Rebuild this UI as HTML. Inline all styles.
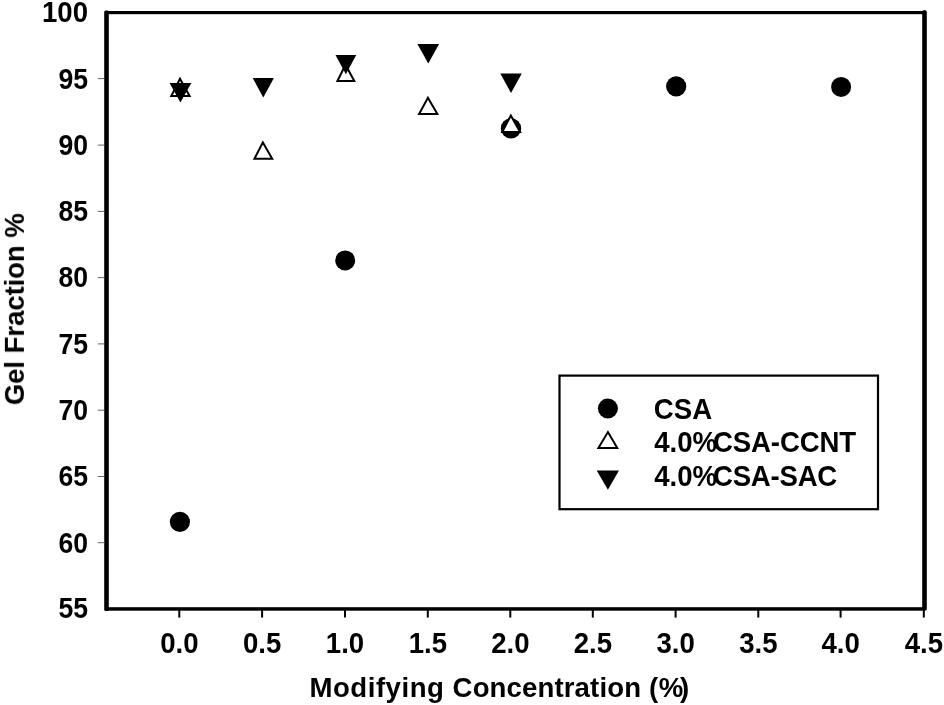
<!DOCTYPE html>
<html lang="en">
<head>
<meta charset="utf-8">
<title>Gel Fraction vs Modifying Concentration</title>
<style>
html,body{margin:0;padding:0;background:#fff;}
body{width:944px;height:705px;overflow:hidden;}
svg{display:block;}
text{font-family:"Liberation Sans",Arial,Helvetica,sans-serif;font-weight:bold;font-size:27.6px;fill:#000;}
</style>
</head>
<body>
<svg width="944" height="705" viewBox="0 0 944 705">
<defs><filter id="soft" x="0" y="0" width="944" height="705" filterUnits="userSpaceOnUse"><feGaussianBlur stdDeviation="0.45"/></filter></defs>
<rect x="0" y="0" width="944" height="705" fill="#fff"/>
<g id="chart" filter="url(#soft)">

<!-- frame -->
<g id="frame" fill="#000">
  <rect x="104.2" y="10.4" width="4.6" height="600.6" rx="1.5"/>
  <rect x="922.2" y="10.2" width="4.6" height="600.2" rx="1.5"/>
  <rect x="106" y="11" width="819" height="3.2"/>
  <rect x="106" y="607.2" width="819" height="3.5"/>
</g>

<!-- y ticks -->
<g id="yticks" stroke="#555" stroke-width="0.9">
  <line x1="97.8" x2="104.5" y1="78.6" y2="78.6"/>
  <line x1="97.8" x2="104.5" y1="145.1" y2="145.1"/>
  <line x1="97.8" x2="104.5" y1="211.4" y2="211.4"/>
  <line x1="97.8" x2="104.5" y1="277.6" y2="277.6"/>
  <line x1="97.8" x2="104.5" y1="343.9" y2="343.9"/>
  <line x1="97.8" x2="104.5" y1="410.2" y2="410.2"/>
  <line x1="97.8" x2="104.5" y1="476.5" y2="476.5"/>
  <line x1="97.8" x2="104.5" y1="542.7" y2="542.7"/>
</g>

<!-- x ticks -->
<g id="xticks" stroke="#000" stroke-width="2">
  <line x1="179.3" x2="179.3" y1="610" y2="617.6"/>
  <line x1="262.1" x2="262.1" y1="610" y2="617.6"/>
  <line x1="345.0" x2="345.0" y1="610" y2="617.6"/>
  <line x1="427.8" x2="427.8" y1="610" y2="617.6"/>
  <line x1="510.3" x2="510.3" y1="610" y2="617.6"/>
  <line x1="592.8" x2="592.8" y1="610" y2="617.6"/>
  <line x1="675.6" x2="675.6" y1="610" y2="617.6"/>
  <line x1="758.3" x2="758.3" y1="610" y2="617.6"/>
  <line x1="840.6" x2="840.6" y1="610" y2="617.6"/>
  <line x1="923.8" x2="923.8" y1="610" y2="617.6"/>
</g>

<!-- y tick labels -->
<g id="ylabels" text-anchor="end">
  <text transform="translate(88 21.6) scale(1 1.045)">100</text>
  <text transform="translate(88 88.6) scale(0.965 1.045)">95</text>
  <text transform="translate(88 154.9) scale(0.965 1.045)">90</text>
  <text transform="translate(88 221.2) scale(0.965 1.045)">85</text>
  <text transform="translate(88 287.4) scale(0.965 1.045)">80</text>
  <text transform="translate(88 353.7) scale(0.965 1.045)">75</text>
  <text transform="translate(88 420.0) scale(0.965 1.045)">70</text>
  <text transform="translate(88 486.3) scale(0.965 1.045)">65</text>
  <text transform="translate(88 552.5) scale(0.965 1.045)">60</text>
  <text transform="translate(88 618.2) scale(0.965 1.045)">55</text>
</g>

<!-- x tick labels -->
<g id="xlabels" text-anchor="middle">
  <text transform="translate(179.3 652.9) scale(1 1.045)">0.0</text>
  <text transform="translate(262.1 652.9) scale(1 1.045)">0.5</text>
  <text transform="translate(345.0 652.9) scale(1 1.045)">1.0</text>
  <text transform="translate(427.8 652.9) scale(1 1.045)">1.5</text>
  <text transform="translate(510.3 652.9) scale(1 1.045)">2.0</text>
  <text transform="translate(592.8 652.9) scale(1 1.045)">2.5</text>
  <text transform="translate(675.6 652.9) scale(1 1.045)">3.0</text>
  <text transform="translate(758.3 652.9) scale(1 1.045)">3.5</text>
  <text transform="translate(840.6 652.9) scale(1 1.045)">4.0</text>
  <text transform="translate(923.8 652.9) scale(1 1.045)">4.5</text>
</g>

<!-- axis titles -->
<text id="xtitle" transform="translate(0 696.9) scale(1 1.02)"><tspan x="309.5" style="letter-spacing:0.52px">Modifying</tspan><tspan x="452.6" style="letter-spacing:0.12px">Concentration</tspan><tspan x="649.1 658.7 680.0">(%)</tspan></text>
<text id="ytitle" transform="translate(23.4 405.2) rotate(-90) scale(1 1.02)" textLength="192" lengthAdjust="spacing">Gel Fraction %</text>

<!-- series - CSA filled circles -->
<g id="csa" fill="#000">
  <circle cx="179.9" cy="521.8" r="10.1"/>
  <circle cx="345.2" cy="260.4" r="10"/>
  <circle cx="511.0" cy="128.4" r="10.2"/>
  <circle cx="676.2" cy="86.4" r="10.1"/>
  <circle cx="841.1" cy="86.9" r="10"/>
</g>

<!-- series - 4.0%CSA-CCNT open up triangles -->
<g id="ccnt" fill="#fff" stroke="#000" stroke-width="2" stroke-linejoin="miter">
  <path d="M180.0 78.7 L189.6 96.0 L171.3 96.0 Z"/>
  <path d="M262.9 142.4 L272.2 158.8 L254.4 158.8 Z"/>
  <path d="M345.5 64.7 L354.3 81.1 L337.4 81.1 Z"/>
  <path d="M427.9 97.7 L437.4 114.1 L419.1 114.1 Z"/>
  <path d="M510.8 115.6 L520.1 132.0 L502.2 132.0 Z"/>
</g>

<!-- series - 4.0%CSA-SAC filled down triangles -->
<g id="sac" fill="#000">
  <path d="M169.6 83 L191.3 83 L180.4 102.5 Z"/>
  <path d="M252.7 78 L273.9 78 L263.3 97.4 Z"/>
  <path d="M335.5 54.9 L356.2 54.9 L345.9 74.2 Z"/>
  <path d="M417.4 43.9 L439.1 43.9 L428.3 63.6 Z"/>
  <path d="M500.3 73.4 L521.8 73.4 L511.0 93 Z"/>
</g>

<!-- legend -->
<g id="legend">
  <rect x="559.5" y="375.6" width="318.5" height="133.6" fill="#fff" stroke="#000" stroke-width="2.2"/>
  <circle cx="607.9" cy="408.5" r="10" fill="#000"/>
  <path d="M607.9 432.1 L617.3 448.0 L598.4 448.0 Z" fill="#fff" stroke="#000" stroke-width="2"/>
  <path d="M596.7 470.5 L619 470.5 L607.9 489.8 Z" fill="#000"/>
  <text transform="translate(653.8 419.0) scale(1 1.045)">CSA</text>
  <text transform="translate(654.2 452.3) scale(1 1.045)">4.0%<tspan x="58.8" textLength="143.2" lengthAdjust="spacing">CSA-CCNT</tspan></text>
  <text transform="translate(654.2 485.9) scale(1 1.045)">4.0%<tspan x="58.8" textLength="124.3" lengthAdjust="spacing">CSA-SAC</tspan></text>
</g>
</g>
</svg>
</body>
</html>
